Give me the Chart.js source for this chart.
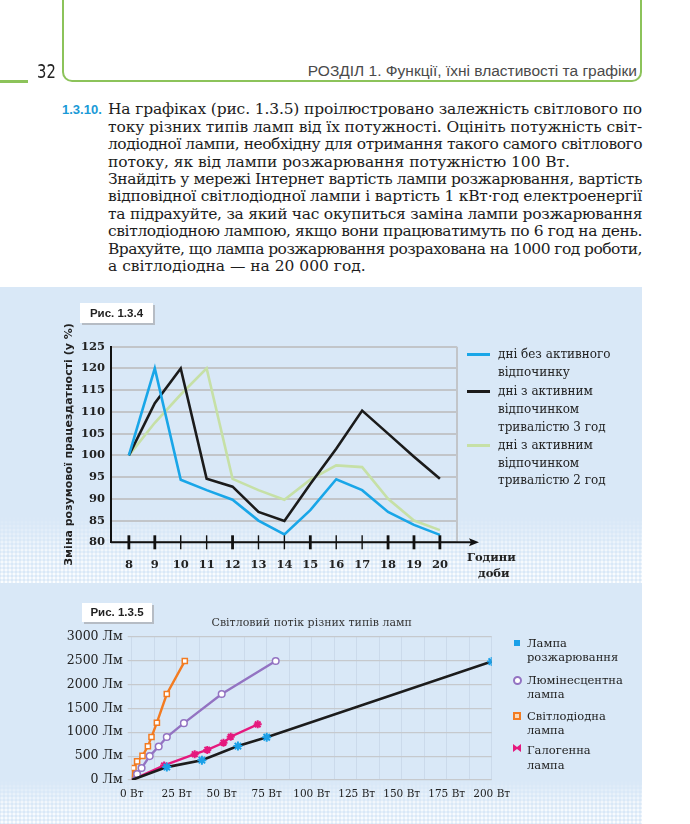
<!DOCTYPE html>
<html><head><meta charset="utf-8">
<script src="https://cdn.jsdelivr.net/npm/chart.js@4.4.1/dist/chart.umd.min.js"></script>
<style>
html,body{margin:0;padding:0;background:#fff;width:690px;height:824px;overflow:hidden;position:relative;font-family:"DejaVu Serif",serif;}
.a{position:absolute;white-space:nowrap;}
.frame{position:absolute;left:62px;top:-12px;width:576px;height:92px;border:2.5px solid #8cc35a;border-top:none;border-radius:0 0 10px 10px;}
.ln{position:absolute;left:108px;white-space:nowrap;font-family:"DejaVu Serif",serif;font-size:14px;line-height:17.4px;color:#1c1c1c;}
.panel{position:absolute;left:0;top:287px;width:642px;height:537px;background:#d9e8f7;}
.dots{position:absolute;left:0;width:642px;background-image:radial-gradient(circle at 2px 2px,#ffffff 0,#ffffff 1.2px,rgba(255,255,255,0) 1.9px);background-size:4px 4px;background-repeat:repeat;-webkit-mask-image:linear-gradient(to bottom,rgba(0,0,0,0) 0%,rgba(0,0,0,.7) 55%,rgba(0,0,0,.9) 100%);mask-image:linear-gradient(to bottom,rgba(0,0,0,0) 0%,rgba(0,0,0,.7) 55%,rgba(0,0,0,.9) 100%);}
.fig{position:absolute;background:#fff;box-shadow:2px 2px 0 #b6bcc4;font:bold 11.5px "Liberation Sans",Arial,sans-serif;color:#222;text-align:center;}
.lg1{position:absolute;left:498px;font:12px "DejaVu Serif",serif;color:#222;white-space:nowrap;line-height:14px;}
.ls1{position:absolute;left:467px;width:23px;height:2.5px;}
.lg2{position:absolute;left:527px;font:11.5px "DejaVu Serif",serif;color:#222;white-space:nowrap;line-height:14px;}
canvas{position:absolute;left:0;}
</style></head><body>

<div class="frame"></div>
<div class="a" style="left:0;top:80px;width:28px;height:2.5px;background:#8cc35a"></div>
<div class="a" style="left:37px;top:59px;font:20px 'DejaVu Sans Condensed','DejaVu Sans',sans-serif;color:#222;transform:scaleX(0.82);transform-origin:0 0">32</div>
<div class="a" style="right:53px;top:62px;font:15.5px 'Liberation Sans',Arial,sans-serif;color:#4a4a4a">РОЗДІЛ 1. Функції, їхні властивості та графіки</div>

<div class="a" style="left:62px;top:102px;font:bold 13px 'Liberation Sans Narrow','Liberation Sans',sans-serif;color:#1a9ad7">1.3.10.</div>
<div class="ln j">На графіках (рис. 1.3.5) проілюстровано залежність світлового по</div>
<div class="ln j">току різних типів ламп від їх потужності. Оцініть потужність світ-</div>
<div class="ln j">лодіодної лампи, необхідну для отримання такого самого світлового</div>
<div class="ln" id="l4">потоку, як від лампи розжарювання потужністю 100 Вт.</div>
<div class="ln j">Знайдіть у мережі Інтернет вартість лампи розжарювання, вартість</div>
<div class="ln j">відповідної світлодіодної лампи і вартість 1 кВт·год електроенергії</div>
<div class="ln j">та підрахуйте, за який час окупиться  заміна лампи розжарювання</div>
<div class="ln j">світлодіодною лампою, якщо вони працюватимуть по 6 год на день.</div>
<div class="ln j">Врахуйте, що лампа розжарювання розрахована на 1000 год роботи,</div>
<div class="ln" id="l10">а світлодіодна — на 20 000 год.</div>

<div class="panel"></div>
<div class="dots" style="top:516px;height:67px"></div>
<div class="dots" style="top:780px;height:44px"></div>

<canvas id="c1" width="690" height="310" style="top:290px;width:690px;height:310px"></canvas>
<canvas id="c2" width="690" height="224" style="top:600px;width:690px;height:224px"></canvas>

<div class="fig" style="left:80px;top:303px;width:73px;height:20px;line-height:20px">Рис. 1.3.4</div>
<div class="fig" style="left:82px;top:603px;width:70px;height:19px;line-height:19px">Рис. 1.3.5</div>

<div class="a" style="left:467px;top:550px;font:bold 11.5px 'DejaVu Serif',serif;color:#222">Години</div>
<div class="a" style="left:478px;top:566px;font:bold 11.5px 'DejaVu Serif',serif;color:#222">доби</div>

<div class="ls1" style="top:353px;background:#19a6e8"></div>
<div class="ls1" style="top:390px;background:#1b1b1b"></div>
<div class="ls1" style="top:444px;background:#c6e0a6"></div>
<div class="lg1" style="top:347px">дні без активного</div>
<div class="lg1" style="top:365px">відпочинку</div>
<div class="lg1" style="top:384px">дні з активним</div>
<div class="lg1" style="top:402px">відпочинком</div>
<div class="lg1" style="top:420px">тривалістю 3 год</div>
<div class="lg1" style="top:438px">дні з активним</div>
<div class="lg1" style="top:456px">відпочинком</div>
<div class="lg1" style="top:473px">тривалістю 2 год</div>

<div class="a" style="left:514px;top:640px;width:6px;height:6px;background:#1aa0e8"></div>
<div class="a" style="left:513px;top:676px;width:5px;height:5px;border:2px solid #9373c2;border-radius:50%;background:#fff"></div>
<div class="a" style="left:513px;top:712px;width:4px;height:4px;border:2px solid #f37b21;background:#fbd9b8"></div>
<div class="a" style="left:513px;top:744px;width:8px;height:8px;background:#e5197e;clip-path:polygon(0 0,50% 38%,100% 0,100% 100%,50% 62%,0 100%)"></div>
<div class="lg2" style="top:636px">Лампа</div>
<div class="lg2" style="top:650px">розжарювання</div>
<div class="lg2" style="top:673px">Люмінесцентна</div>
<div class="lg2" style="top:687px">лампа</div>
<div class="lg2" style="top:709px">Світлодіодна</div>
<div class="lg2" style="top:723px">лампа</div>
<div class="lg2" style="top:743px">Галогенна</div>
<div class="lg2" style="top:758px">лампа</div>

<script>
// ---------- Fig. 1.3.4 data ----------
const hours   = [8, 9, 10, 11, 12, 13, 14, 15, 16, 17, 18, 19, 20];
const noRest  = [100, 120, 94.4, 92, 89.8, 85, 81.8, 87.4, 94.5, 92, 87, 84, 81.7];
const rest3h  = [100, 112, 120, 94.6, 92.8, 87, 84.9, 93.4, 101.5, 110.3, 105, 99.7, 94.6];
const rest2h  = [100, 107.5, 114, 120, 94.6, 92, 89.8, 94.4, 97.7, 97.3, 90, 85, 82.8];
const yTicks1 = [80, 85, 90, 95, 100, 105, 110, 115, 120, 125];
const heavyTicks = [8, 9, 12, 15, 18, 19, 20];

// ---------- Fig. 1.3.5 data ----------
const incW  = [0, 19.5, 39, 59, 75, 200];
const incLm = [0, 270, 415, 710, 895, 2480];
const fluW  = [0, 3, 5.5, 10, 15, 19.5, 29, 50, 80];
const fluLm = [0, 125, 250, 500, 700, 900, 1190, 1800, 2490];
const ledW  = [0, 1, 3, 6, 9, 11, 14, 19.5, 29.5];
const ledLm = [0, 250, 390, 505, 705, 900, 1200, 1800, 2490];
const halW  = [0, 18, 35, 42, 51, 55, 70];
const halLm = [0, 305, 540, 630, 780, 905, 1165];
const lampNames = ['Лампа розжарювання', 'Люмінесцентна лампа', 'Світлодіодна лампа', 'Галогенна лампа'];

// ---------- text fitting ----------
(function(){
  const lns = document.querySelectorAll('.ln');
  const l10 = document.getElementById('l10');
  const w0 = l10.getBoundingClientRect().width;
  const fs = 14 * 258 / w0;
  lns.forEach((el, i) => { el.style.fontSize = fs + 'px'; el.style.top = (101.3 + i * 17.4) + 'px'; });
  const fit = (el, target) => {
    const w = el.getBoundingClientRect().width;
    const extra = target - w;
    const spaces = (el.textContent.match(/ /g) || []).length;
    if (extra >= 0) el.style.wordSpacing = (extra / spaces) + 'px';
    else el.style.letterSpacing = (extra / el.textContent.length) + 'px';
  };
  document.querySelectorAll('.ln.j').forEach(el => fit(el, 534));
  fit(document.getElementById('l4'), 462);
})();

const pts = (xs, ys) => xs.map((x, i) => ({x: x, y: ys[i]}));

// ---------- Chart 1 ----------
const axisDecor = {
  id: 'axisDecor',
  afterDraw(chart) {
    const {ctx, chartArea: a, scales: {x}} = chart;
    ctx.save();
    ctx.strokeStyle = '#c2c5c9'; ctx.lineWidth = 2;
    ctx.beginPath(); ctx.moveTo(a.right, a.top); ctx.lineTo(a.right, a.bottom); ctx.stroke();
    ctx.strokeStyle = '#111'; ctx.fillStyle = '#111'; ctx.lineWidth = 2;
    ctx.beginPath(); ctx.moveTo(a.left, a.bottom); ctx.lineTo(a.right + 18, a.bottom); ctx.stroke();
    ctx.beginPath(); ctx.moveTo(a.right + 22, a.bottom); ctx.lineTo(a.right + 12, a.bottom - 4);
    ctx.lineTo(a.right + 14, a.bottom); ctx.lineTo(a.right + 12, a.bottom + 4); ctx.closePath(); ctx.fill();
    hours.forEach(h => {
      const px = x.getPixelForValue(h);
      ctx.lineWidth = heavyTicks.includes(h) ? 2.8 : 1.4;
      ctx.beginPath(); ctx.moveTo(px, a.bottom - 7); ctx.lineTo(px, a.bottom + 7); ctx.stroke();
    });
    ctx.restore();
  }
};

new Chart(document.getElementById('c1'), {
  type: 'line',
  data: {
    datasets: [
      {label: 'дні без активного відпочинку', data: pts(hours, noRest), borderColor: '#19a6e8', borderWidth: 2.6, pointRadius: 0},
      {label: 'дні з активним відпочинком тривалістю 3 год', data: pts(hours, rest3h), borderColor: '#1b1b1b', borderWidth: 2.6, pointRadius: 0},
      {label: 'дні з активним відпочинком тривалістю 2 год', data: pts(hours, rest2h), borderColor: '#c6e0a6', borderWidth: 2.6, pointRadius: 0}
    ]
  },
  options: {
    responsive: false, animation: false,
    layout: {padding: {left: 60, right: 233, top: 56.7, bottom: 27.7}},
    plugins: {legend: {display: false}, tooltip: {enabled: false}},
    scales: {
      x: {
        type: 'linear', min: 7.31, max: 20.66,
        afterBuildTicks: s => { s.ticks = hours.map(v => ({value: v})); },
        afterFit: s => { s.height = 30; },
        grid: {display: false}, border: {display: false},
        ticks: {autoSkip: false, maxRotation: 0, padding: 8, color: '#222', font: {family: 'DejaVu Serif', size: 11.5, weight: 'bold'}}
      },
      y: {
        min: 80, max: 125,
        afterBuildTicks: s => { s.ticks = yTicks1.map(v => ({value: v})); },
        afterFit: s => { s.width = 51; },
        grid: {color: '#c2c5c9', lineWidth: 2, drawTicks: false},
        border: {display: true, color: '#111', width: 2},
        ticks: {padding: 6, color: '#222', font: {family: 'DejaVu Serif', size: 11.5, weight: 'bold'}},
        title: {display: true, text: 'Зміна розумової працездатності (у %)', color: '#222', padding: {top: 3, bottom: 0}, font: {family: 'DejaVu Sans', size: 11, weight: 'bold'}}
      }
    }
  },
  plugins: [axisDecor]
});

// ---------- Chart 2 ----------
const noOrigin = r => ctx => (ctx.raw && ctx.raw.x === 0) ? 0 : r;
new Chart(document.getElementById('c2'), {
  type: 'line',
  data: {
    datasets: [
      {label: lampNames[0], data: pts(incW, incLm), borderColor: '#1c1c1c', borderWidth: 2.6,
       pointStyle: 'star', pointRadius: noOrigin(4.5), pointBorderColor: '#1aa0e8', pointBackgroundColor: '#1aa0e8', pointBorderWidth: 2},
      {label: lampNames[1], data: pts(fluW, fluLm), borderColor: '#9373c2', borderWidth: 2.4,
       pointStyle: 'circle', pointRadius: noOrigin(3.3), pointBorderColor: '#9373c2', pointBackgroundColor: '#fff', pointBorderWidth: 1.5},
      {label: lampNames[3], data: pts(halW, halLm), borderColor: '#e5197e', borderWidth: 2.4,
       pointStyle: 'star', pointRadius: noOrigin(4), pointBorderColor: '#e5197e', pointBackgroundColor: '#e5197e', pointBorderWidth: 2},
      {label: lampNames[2], data: pts(ledW, ledLm), borderColor: '#f37b21', borderWidth: 2.4,
       pointStyle: 'rect', pointRadius: noOrigin(3.6), pointBorderColor: '#f37b21', pointBackgroundColor: '#fff', pointBorderWidth: 1.5}
    ]
  },
  options: {
    responsive: false, animation: false,
    layout: {padding: {left: 61.7, right: 198.3, top: 0, bottom: 14}},
    plugins: {
      legend: {display: false}, tooltip: {enabled: false},
      title: {display: true, fullSize: false, text: 'Світловий потік різних типів ламп', color: '#333',
              padding: {top: 17, bottom: 6.5}, font: {family: 'DejaVu Serif', size: 11, weight: 'normal'}}
    },
    scales: {
      x: {
        type: 'linear', min: 0, max: 200,
        afterFit: s => { s.height = 30; },
        grid: {color: '#cbdaeb', lineWidth: 1, drawTicks: false}, border: {display: false},
        ticks: {stepSize: 12.5, autoSkip: false, maxRotation: 0, padding: 8, color: '#222',
                callback: v => (v % 25 === 0 ? v + ' Вт' : ''), font: {family: 'DejaVu Serif', size: 10.5}}
      },
      y: {
        min: 0, max: 3000,
        afterFit: s => { s.width = 70; },
        grid: {color: '#c6c9cd', lineWidth: 1.2, drawTicks: true, tickLength: 4},
        border: {display: false},
        ticks: {stepSize: 500, padding: 5, color: '#222', callback: v => v + ' Лм', font: {family: 'DejaVu Serif', size: 12.5}}
      }
    }
  }
});
</script>
</body></html>
